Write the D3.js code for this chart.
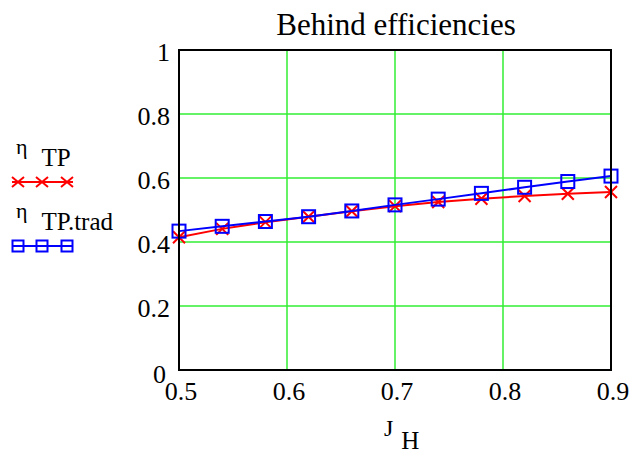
<!DOCTYPE html>
<html>
<head>
<meta charset="utf-8">
<script src="https://cdn.jsdelivr.net/npm/d3@7"></script>
<style>
  body { margin: 0; background: #fff; }
</style>
</head>
<body>
<svg id="chart" width="636" height="454"></svg>
<script>
// J_H values (x)
var jH = [0.5, 0.54, 0.58, 0.62, 0.66, 0.70, 0.74, 0.78, 0.82, 0.86, 0.90];
// eta_TP (red, crosses)
var etaTP = [0.415, 0.441, 0.462, 0.479, 0.496, 0.512, 0.525, 0.535, 0.544, 0.551, 0.556];
// eta_TP.trad (blue, squares)
var etaTrad = [0.434, 0.449, 0.464, 0.479, 0.497, 0.516, 0.534, 0.552, 0.571, 0.589, 0.606];

var xTicks = [0.5, 0.6, 0.7, 0.8, 0.9];
var yTicks = [0, 0.2, 0.4, 0.6, 0.8, 1];

var FONT = "Liberation Serif";

var svg = d3.select("#chart");
svg.append("rect").attr("width", 636).attr("height", 454).attr("fill", "#fff");

var x = d3.scaleLinear().domain([0.5, 0.9]).range([179, 611]);
var y = d3.scaleLinear().domain([0, 1]).range([370, 50]);

// grid
var grid = svg.append("g").attr("class", "grid");
grid.selectAll(".gx")
  .data(xTicks.slice(1, -1))
  .enter().append("line")
    .attr("x1", function(d) { return x(d); })
    .attr("x2", function(d) { return x(d); })
    .attr("y1", y(0)).attr("y2", y(1))
    .attr("stroke", "#33ee33").attr("stroke-width", 1.5);
grid.selectAll(".gy")
  .data(yTicks.slice(1, -1))
  .enter().append("line")
    .attr("y1", function(d) { return y(d); })
    .attr("y2", function(d) { return y(d); })
    .attr("x1", x(0.5)).attr("x2", x(0.9))
    .attr("stroke", "#33ee33").attr("stroke-width", 1.5);

// tick labels
svg.append("g").selectAll("text")
  .data(yTicks)
  .enter().append("text")
    .attr("font-family", FONT)
    .attr("x", function(d) { return d == 0 ? 166 : 170; })
    .attr("y", function(d) { return y(d) + (d == 0 ? 13 : 11); })
    .attr("text-anchor", "end")
    .attr("font-size", 26)
    .text(function(d) { return d == 0 || d == 1 ? d3.format("d")(d) : d3.format(".1f")(d); });

svg.append("g").selectAll("text")
  .data(xTicks)
  .enter().append("text")
    .attr("font-family", FONT)
    .attr("x", function(d) { return x(d) + 2; })
    .attr("y", 400)
    .attr("text-anchor", "middle")
    .attr("font-size", 26)
    .text(function(d) { return d3.format(".1f")(d); });

// title
svg.append("text")
  .attr("font-family", FONT)
  .attr("x", 396).attr("y", 35)
  .attr("text-anchor", "middle")
  .attr("font-size", 31)
  .text("Behind efficiencies");

// x axis label
var xl = svg.append("text").attr("font-family", FONT)
  .attr("x", 384).attr("y", 436).attr("font-size", 24);
xl.append("tspan").text("J");
xl.append("tspan").attr("dx", 8).attr("dy", 13).attr("font-size", 25).text("H");

var line = d3.line()
  .x(function(d) { return x(d[0]); })
  .y(function(d) { return y(d[1]); });

function cross(g, cx, cy, sx, sy, color, w) {
  g.append("path")
    .attr("d", "M" + (cx - sx) + "," + (cy - sy) + "L" + (cx + sx) + "," + (cy + sy) +
               "M" + (cx - sx) + "," + (cy + sy) + "L" + (cx + sx) + "," + (cy - sy))
    .attr("stroke", color).attr("stroke-width", w).attr("fill", "none");
}
function square(g, cx, cy, s, color, w) {
  g.append("rect")
    .attr("x", cx - s).attr("y", cy - s)
    .attr("width", 2 * s).attr("height", 2 * s)
    .attr("stroke", color).attr("stroke-width", w).attr("fill", "none");
}

var plot = svg.append("g");
var redData = jH.map(function(d, i) { return [d, etaTP[i]]; });
var blueData = jH.map(function(d, i) { return [d, etaTrad[i]]; });

plot.append("path").datum(redData).attr("d", line)
  .attr("fill", "none").attr("stroke", "#ff0000").attr("stroke-width", 2);
redData.forEach(function(d) { cross(plot, x(d[0]), y(d[1]), 6, 6, "#ff0000", 2); });

plot.append("path").datum(blueData).attr("d", line)
  .attr("fill", "none").attr("stroke", "#0000ff").attr("stroke-width", 2);
blueData.forEach(function(d) { square(plot, x(d[0]), y(d[1]), 6.5, "#0000ff", 2); });

// frame
svg.append("rect")
  .attr("x", x(0.5)).attr("y", y(1))
  .attr("width", x(0.9) - x(0.5)).attr("height", y(0) - y(1))
  .attr("fill", "none").attr("stroke", "#000").attr("stroke-width", 2);

// legend
var leg = svg.append("g");
var l1 = leg.append("text").attr("font-family", FONT)
  .attr("x", 16).attr("y", 154).attr("font-size", 22);
l1.append("tspan").text("η");
l1.append("tspan").attr("dx", 14).attr("dy", 12).attr("font-size", 25).text("TP");
leg.append("line").attr("x1", 12).attr("x2", 73).attr("y1", 182).attr("y2", 182)
  .attr("stroke", "#ff0000").attr("stroke-width", 2);
[18, 42, 67].forEach(function(cx) { cross(leg, cx, 182, 6, 5, "#ff0000", 2); });

var l2 = leg.append("text").attr("font-family", FONT)
  .attr("x", 16).attr("y", 218).attr("font-size", 22);
l2.append("tspan").text("η");
l2.append("tspan").attr("dx", 14).attr("dy", 12).attr("font-size", 25).text("TP.trad");
leg.append("line").attr("x1", 12).attr("x2", 73).attr("y1", 246).attr("y2", 246)
  .attr("stroke", "#0000ff").attr("stroke-width", 2);
[18, 42, 67].forEach(function(cx) { square(leg, cx, 246, 5.5, "#0000ff", 2); });
</script>
</body>
</html>
